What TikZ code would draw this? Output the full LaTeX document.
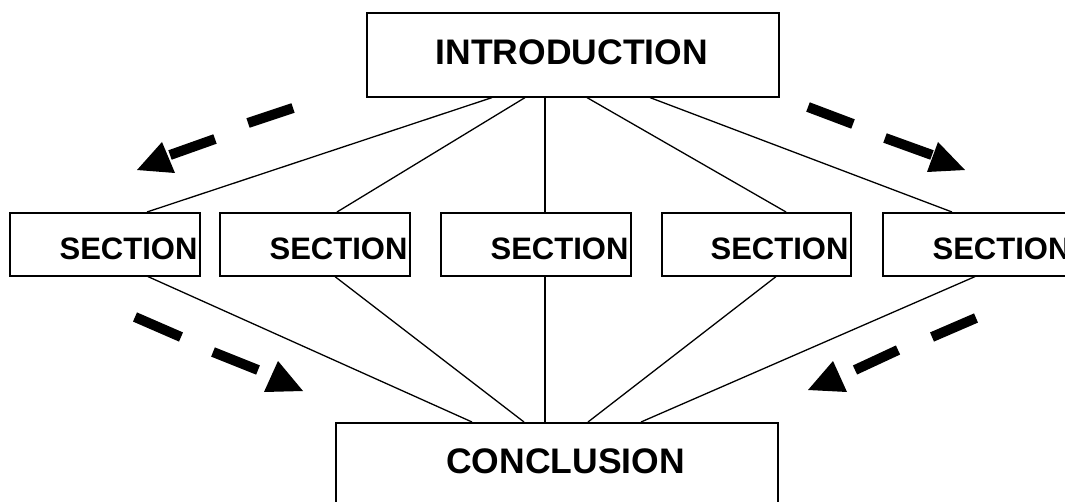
\documentclass[tikz,border=0pt]{standalone}
\usepackage{fontspec}
\setmainfont{Liberation Sans}
\usetikzlibrary{calc}
\tikzset{
  box/.style={draw=black, line width=1.6pt, fill=white, inner sep=0pt, anchor=north west},
  bigtxt/.style={font=\fontsize{35.5}{40}\selectfont\bfseries, inner sep=0pt},
  sectxt/.style={font=\fontsize{31}{36}\selectfont\bfseries, inner sep=0pt, anchor=base east},
  link/.style={draw=black, line width=1.3pt},
  dashbar/.style={line width=10pt, line cap=butt},
  arrhead/.style={fill=black}
}
\begin{document}
\begin{tikzpicture}[x=1pt,y=-1pt]
\useasboundingbox (0,0) rectangle (1065,502);
\clip (0,0) rectangle (1065,502);

% boxes
\node[box, minimum width=412pt, minimum height=84pt] (intro) at (366,12) {};
\node[bigtxt, anchor=base] (introtxt) at ([shift={(-1pt,33pt)}]intro.south) {INTRODUCTION};

\node[box, minimum width=190pt, minimum height=63pt] (s1) at (9,212) {};
\node[box, minimum width=190pt, minimum height=63pt] (s2) at (219,212) {};
\node[box, minimum width=190pt, minimum height=63pt] (s3) at (440,212) {};
\node[box, minimum width=189pt, minimum height=63pt] (s4) at (661,212) {};
\node[box, minimum width=190pt, minimum height=63pt] (s5) at (882,212) {};
\foreach \s in {s1,s2,s3,s4,s5}{
  \node[sectxt] (\s txt) at ([shift={(-3pt,17pt)}]\s.south east) {SECTION};
}

\node[box, minimum width=442pt, minimum height=110pt] (concl) at (335,422) {};
\node[bigtxt, anchor=base west] (concltxt) at ([shift={(111pt,-51pt)}]concl.north west) {CONCLUSION};

% connectors intro -> sections
\draw[link] ([xshift=126pt]intro.south west) -- ([xshift=138pt]s1.north west);
\draw[link] ([xshift=159pt]intro.south west) -- ([xshift=118pt]s2.north west);
\draw[link] ([xshift=179pt]intro.south west) -- ([xshift=105pt]s3.north west);
\draw[link] ([xshift=221pt]intro.south west) -- ([xshift=125pt]s4.north west);
\draw[link] ([xshift=284pt]intro.south west) -- ([xshift=70pt]s5.north west);

% connectors sections -> conclusion
\draw[link] ([xshift=139pt]s1.south west) -- ([xshift=137pt]concl.north west);
\draw[link] ([xshift=116pt]s2.south west) -- ([xshift=189pt]concl.north west);
\draw[link] ([xshift=105pt]s3.south west) -- ([xshift=210pt]concl.north west);
\draw[link] ([xshift=115pt]s4.south west) -- ([xshift=253pt]concl.north west);
\draw[link] ([xshift=93pt]s5.south west) -- ([xshift=306pt]concl.north west);

% decorative dashed arrows
% top left
\draw[dashbar] (293,108) -- (248,123);
\draw[dashbar] (215,139) -- (170,155);
\fill[arrhead] (162,142) -- (175,173) -- (137,170) -- cycle;
% top right
\draw[dashbar] (808,107) -- (853,124);
\draw[dashbar] (885,138) -- (932,155);
\fill[arrhead] (938,142) -- (927,172) -- (965,170) -- cycle;
% bottom left
\draw[dashbar] (135,317) -- (181,337);
\draw[dashbar] (213,352) -- (258,370);
\fill[arrhead] (278,361) -- (264,392) -- (303,391) -- cycle;
% bottom right
\draw[dashbar] (976,318) -- (932,337);
\draw[dashbar] (898,350) -- (855,370);
\fill[arrhead] (833,361) -- (847,392) -- (808,390) -- cycle;
\end{tikzpicture}
\end{document}
